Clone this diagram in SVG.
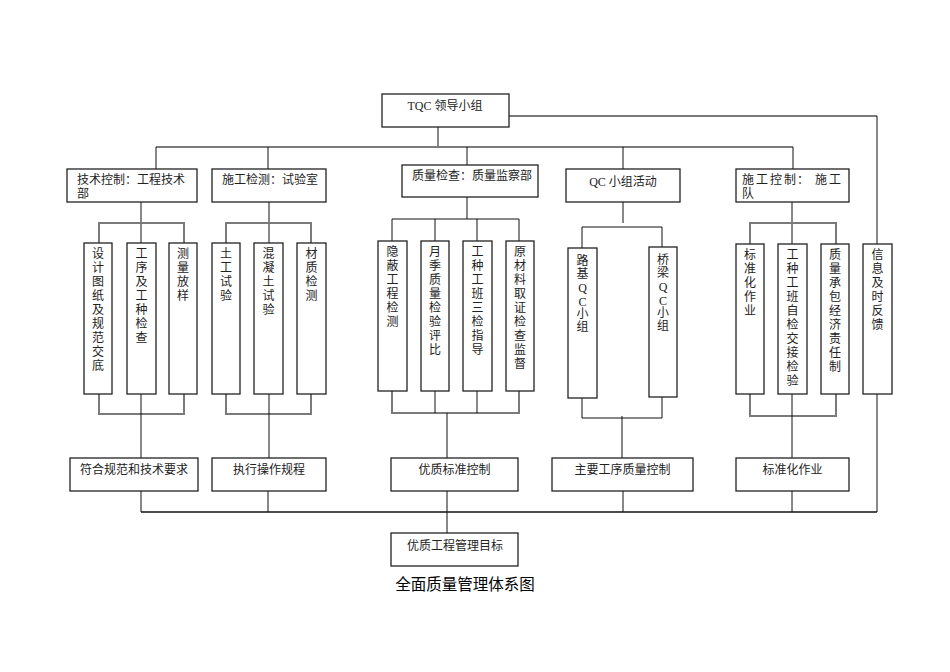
<svg xmlns="http://www.w3.org/2000/svg" width="950" height="672" viewBox="0 0 950 672">
<style>
  .box { fill: #fff; stroke: #222; stroke-width: 1.3; }
  .t { font-family: "Liberation Serif", "Noto Sans CJK SC", serif; font-size: 12px; fill: #222; }
  .c { text-anchor: middle; }
  .k { stroke: #111; stroke-width: 1; fill: none; }
  .g { stroke: #7a7a7a; stroke-width: 2; fill: none; }
  .title { font-family: "Noto Sans CJK SC", "Liberation Sans", sans-serif; font-size: 15.5px; fill: #000; text-anchor: middle; font-weight: 400; }
</style>
<rect width="950" height="672" fill="#fff"/>

<g id="connectors">
  <!-- top level -->
  <path class="k" d="M438 127V147"/>
  <path class="g" d="M156 147H793"/>
  <path class="k" d="M156 147V169M268 147V169M467 147V165M623 147V169M793 147V169"/>
  <path class="g" d="M509 116H877"/>
  <path class="k" d="M877 116V244M877 394V512"/>

  <!-- column 1 -->
  <path class="k" d="M141 202V243"/>
  <path class="g" d="M99 243V223H184V243"/>
  <path class="g" d="M99 394V414H184V394"/>
  <path class="k" d="M141 394V458"/>

  <!-- column 2 -->
  <path class="k" d="M269 202V243"/>
  <path class="g" d="M226 243V223H311V243"/>
  <path class="g" d="M226 394V414H311V394"/>
  <path class="k" d="M269 394V458"/>

  <!-- column 3 -->
  <path class="k" d="M467 197V219"/>
  <path class="k" d="M392 241V219H519V241M435 219V241M477 219V241"/>
  <path class="g" d="M392 391V413H519V391"/>
  <path class="k" d="M435 391V413M477 391V413"/>
  <path class="k" d="M447 413V458"/>

  <!-- column 4 -->
  <path class="k" d="M623 202V223"/>
  <path class="k" d="M582 248V227H662V247"/>
  <path class="k" d="M582 398V418H662V397"/>
  <path class="k" d="M622 416V458"/>

  <!-- column 5 -->
  <path class="k" d="M792 202V244"/>
  <path class="g" d="M750 244V223H836V244"/>
  <path class="g" d="M750 394V416H836V394"/>
  <path class="k" d="M792 394V458"/>

  <!-- bottom -->
  <path class="k" d="M141 491V512M268 491V512M447 491V512M623 491V512M792 491V512"/>
  <path class="k" d="M141 512H877" style="stroke-width:1.4"/>
  <path class="k" d="M447 512V533"/>
</g>

<g id="tqc">
  <rect class="box" x="382" y="94" width="127" height="33"/>
  <text class="t c" x="445" y="110">TQC 领导小组</text>
</g>

<g id="n-tech">
  <rect class="box" x="67" y="169" width="130" height="33"/>
  <text class="t" x="77" y="184">技术控制：工程技术</text>
  <text class="t" x="77" y="198">部</text>
</g>
<g id="n-test">
  <rect class="box" x="212" y="169" width="114" height="33"/>
  <text class="t" x="222" y="184">施工检测：试验室</text>
</g>
<g id="n-quality">
  <rect class="box" x="402" y="165" width="136" height="32"/>
  <text class="t" x="412" y="180">质量检查：质量监察部</text>
</g>
<g id="n-qc">
  <rect class="box" x="566" y="169" width="114" height="33"/>
  <text class="t c" x="623" y="186">QC 小组活动</text>
</g>
<g id="n-construct">
  <rect class="box" x="736" y="169" width="113" height="33"/>
  <text class="t" x="742 756 770 784 797 815 829" y="184">施工控制：施工</text>
  <text class="t" x="742" y="198">队</text>
</g>

<!-- column 1 leaves -->
<g id="l-design">
  <rect class="box" x="84" y="243" width="28" height="151"/>
  <text class="t c" x="98 98 98 98 98 98 98 98 98" y="258 272 286 300 314 328 342 356 370">设计图纸及规范交底</text>
</g>
<g id="l-process">
  <rect class="box" x="127" y="243" width="29" height="151"/>
  <text class="t c" x="141.5 141.5 141.5 141.5 141.5 141.5 141.5" y="258 272 286 300 314 328 342">工序及工种检查</text>
</g>
<g id="l-survey">
  <rect class="box" x="169" y="243" width="28" height="151"/>
  <text class="t c" x="183 183 183 183" y="258 272 286 300">测量放样</text>
</g>

<!-- column 2 leaves -->
<g id="l-soil">
  <rect class="box" x="212" y="243" width="28" height="151"/>
  <text class="t c" x="226 226 226 226" y="258 272 286 300">土工试验</text>
</g>
<g id="l-concrete">
  <rect class="box" x="254" y="243" width="29" height="151"/>
  <text class="t c" x="268.5 268.5 268.5 268.5 268.5" y="258 272 286 300 314">混凝土试验</text>
</g>
<g id="l-material">
  <rect class="box" x="297" y="243" width="29" height="151"/>
  <text class="t c" x="311.5 311.5 311.5 311.5" y="258 272 286 300">材质检测</text>
</g>

<!-- column 3 leaves -->
<g id="l-hidden">
  <rect class="box" x="378" y="241" width="29" height="150"/>
  <text class="t c" x="392.5 392.5 392.5 392.5 392.5 392.5" y="256 270 284 298 312 326">隐蔽工程检测</text>
</g>
<g id="l-monthly">
  <rect class="box" x="421" y="241" width="28" height="150"/>
  <text class="t c" x="435 435 435 435 435 435 435 435" y="256 270 284 298 312 326 340 354">月季质量检验评比</text>
</g>
<g id="l-threecheck">
  <rect class="box" x="463" y="241" width="29" height="150"/>
  <text class="t c" x="477.5 477.5 477.5 477.5 477.5 477.5 477.5 477.5" y="256 270 284 298 312 326 340 354">工种工班三检指导</text>
</g>
<g id="l-rawmat">
  <rect class="box" x="506" y="241" width="28" height="150"/>
  <text class="t c" x="520 520 520 520 520 520 520 520 520" y="256 270 284 298 312 326 340 354 368">原材料取证检查监督</text>
</g>

<!-- column 4 leaves -->
<g id="l-roadbed">
  <rect class="box" x="568" y="248" width="29" height="150"/>
  <text class="t c" x="582.5 582.5 582.5 582.5 582.5 582.5" y="265 278 292 306 318 331">路基QC小组</text>
</g>
<g id="l-bridge">
  <rect class="box" x="649" y="247" width="28" height="150"/>
  <text class="t c" x="663 663 663 663 663 663" y="264 277 291 305 317 330">桥梁QC小组</text>
</g>

<!-- column 5 leaves -->
<g id="l-standard">
  <rect class="box" x="736" y="244" width="28" height="150"/>
  <text class="t c" x="750 750 750 750 750" y="259 273 287 301 315">标准化作业</text>
</g>
<g id="l-selfcheck">
  <rect class="box" x="778" y="244" width="29" height="150"/>
  <text class="t c" x="792.5 792.5 792.5 792.5 792.5 792.5 792.5 792.5 792.5 792.5" y="259 273 287 301 315 329 343 357 371 385">工种工班自检交接检验</text>
</g>
<g id="l-contract">
  <rect class="box" x="821" y="244" width="28" height="150"/>
  <text class="t c" x="835 835 835 835 835 835 835 835 835" y="259 273 287 301 315 329 343 357 371">质量承包经济责任制</text>
</g>
<g id="l-feedback">
  <rect class="box" x="863" y="244" width="29" height="150"/>
  <text class="t c" x="877.5 877.5 877.5 877.5 877.5 877.5" y="259 273 287 301 315 329">信息及时反馈</text>
</g>

<!-- bottom row -->
<g id="b-spec">
  <rect class="box" x="70" y="458" width="128" height="33"/>
  <text class="t c" x="134" y="474">符合规范和技术要求</text>
</g>
<g id="b-procedure">
  <rect class="box" x="212" y="458" width="114" height="33"/>
  <text class="t c" x="269" y="474">执行操作规程</text>
</g>
<g id="b-qstandard">
  <rect class="box" x="391" y="458" width="127" height="33"/>
  <text class="t c" x="454.5" y="474">优质标准控制</text>
</g>
<g id="b-mainprocess">
  <rect class="box" x="552" y="458" width="141" height="33"/>
  <text class="t c" x="622.5" y="474">主要工序质量控制</text>
</g>
<g id="b-standardize">
  <rect class="box" x="736" y="458" width="113" height="33"/>
  <text class="t c" x="792.5" y="474">标准化作业</text>
</g>
<g id="goal">
  <rect class="box" x="391" y="533" width="127" height="33"/>
  <text class="t c" x="455" y="550">优质工程管理目标</text>
</g>

<text class="title" x="465" y="590">全面质量管理体系图</text>
</svg>
